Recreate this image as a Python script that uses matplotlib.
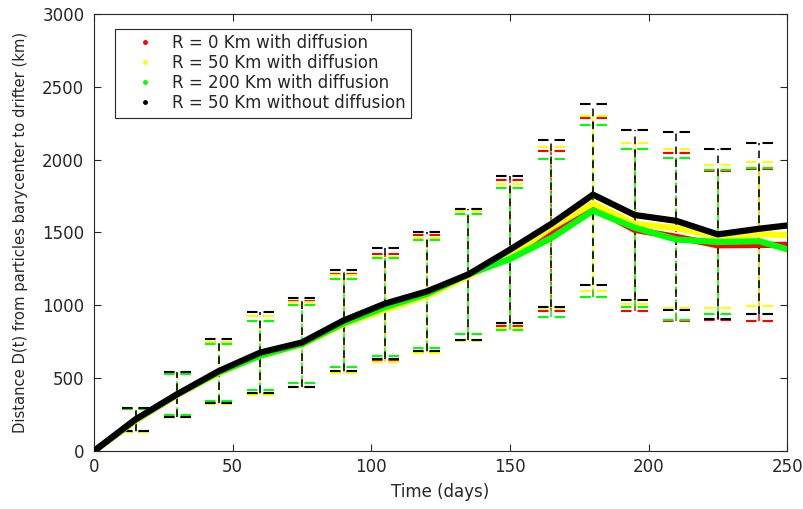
import matplotlib.pyplot as plt
from matplotlib.lines import Line2D
import numpy as np

plt.rcParams['font.family'] = ['DejaVu Sans']

# Time axis (days); error bars are shown at the inner points only
t = np.array([0, 15, 30, 45, 60, 75, 90, 105, 120, 135, 150, 165, 180, 195, 210, 225, 240, 250])

# Mean distance (km) and error half-width (km) for each run
red_mean = [0, 210, 385, 540, 660, 735, 875, 985, 1080, 1210, 1360, 1510, 1670, 1518, 1470, 1412, 1415, 1415]
red_err = [0, 78, 150, 210, 270, 295, 338, 366, 400, 450, 500, 547, 615, 557, 575, 512, 520, 0]

yel_mean = [0, 210, 385, 535, 655, 730, 870, 970, 1065, 1200, 1340, 1535, 1700, 1560, 1530, 1474, 1490, 1482]
yel_err = [0, 78, 150, 210, 270, 290, 335, 360, 395, 445, 495, 555, 600, 552, 545, 492, 494, 0]

grn_mean = [0, 215, 390, 540, 655, 735, 877, 987, 1078, 1213, 1318, 1462, 1650, 1533, 1452, 1435, 1440, 1385]
grn_err = [0, 75, 140, 195, 235, 265, 303, 335, 372, 412, 486, 543, 590, 543, 556, 495, 503, 0]

blk_mean = [0, 218, 390, 549, 676, 745, 896, 1012, 1095, 1212, 1382, 1560, 1760, 1620, 1580, 1487, 1526, 1548]
blk_err = [0, 78, 155, 217, 280, 303, 345, 380, 410, 450, 503, 574, 620, 581, 610, 583, 588, 0]

labels = ['R = 0 Km with diffusion', 'R = 50 Km with diffusion',
          'R = 200 Km with diffusion', 'R = 50 Km without diffusion']
colors = ['#ff0000', '#ffff00', '#00ff00', '#000000']
series = [(red_mean, red_err), (yel_mean, yel_err), (grn_mean, grn_err), (blk_mean, blk_err)]

fig = plt.figure(figsize=(8.04, 5.09), dpi=100)
ax = fig.add_axes([0.117, 0.114, 0.862, 0.8585])

cap = 4.87  # half width of the caps, in days
for (m, e), c in zip(series, colors):
    m = np.array(m, dtype=float)
    e = np.array(e, dtype=float)
    tb, mb, eb = t[1:-1], m[1:-1], e[1:-1]
    ax.vlines(tb, mb - eb, mb + eb, colors=c, linewidth=1.1, linestyles=(0, (5, 3.5)), zorder=1)
    ax.hlines(mb + eb, tb - cap, tb + cap, colors=c, linewidth=1.5, linestyles=(0, (5.04, 2.88)), zorder=1)
    ax.hlines(mb - eb, tb - cap, tb + cap, colors=c, linewidth=1.5, linestyles=(0, (5.04, 2.88)), zorder=1)

for (m, e), c in zip(series, colors):
    ax.plot(t, m, color=c, linewidth=4.5, solid_joinstyle='miter', zorder=3)

ax.set_xlim(0, 250)
ax.set_ylim(0, 3000)
ax.set_xticks(range(0, 251, 50))
ax.set_yticks(range(0, 3001, 500))

axc = '#262626'
for s in ax.spines.values():
    s.set_color(axc)
    s.set_linewidth(0.8)
ax.tick_params(direction='in', top=True, right=True, length=5, width=0.8,
               colors=axc, labelsize=12, labelcolor=axc)
ax.tick_params(axis='y', pad=7)
ax.tick_params(axis='x', pad=5)
ax.set_xlabel('Time (days)', fontsize=12, color=axc, labelpad=5)
ax.set_ylabel('Distance D(t) from particles barycenter to drifter (km)', fontsize=10.6, color=axc, labelpad=10)

handles = [Line2D([], [], linestyle='none', marker='.', markersize=5, color=c) for c in colors]
leg = ax.legend(handles, labels, loc='upper left', bbox_to_anchor=(0.03, 0.966),
                borderaxespad=0, fancybox=False, framealpha=1, edgecolor='#262626',
                fontsize=12, handlelength=3.0, handletextpad=0.1, borderpad=0.32,
                labelspacing=0.12)
leg.get_frame().set_linewidth(0.8)
for txt in leg.get_texts():
    txt.set_color(axc)

fig.savefig('out.png', dpi=100)
